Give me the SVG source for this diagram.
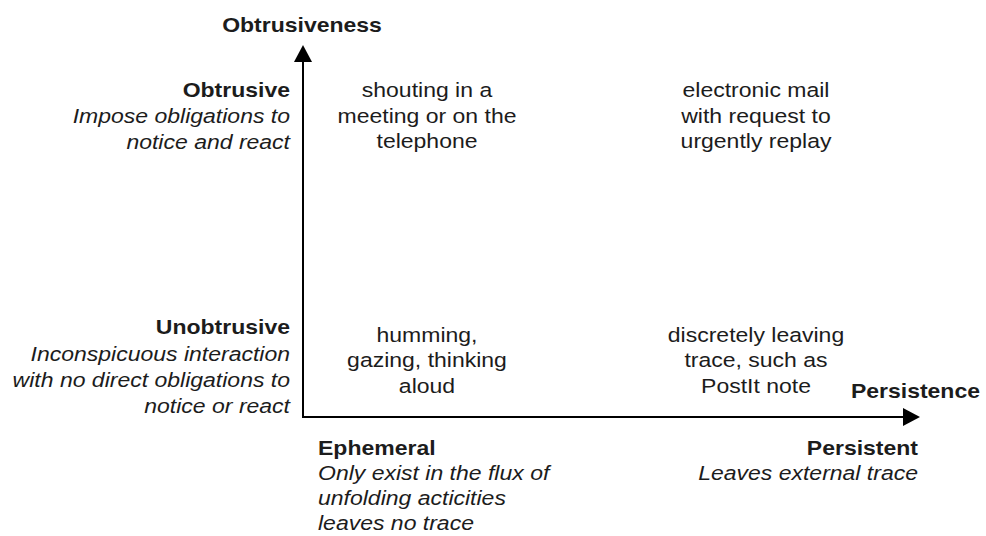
<svg xmlns="http://www.w3.org/2000/svg" width="986" height="536" viewBox="0 0 986 536">
  <style>
    text { font-family: "Liberation Sans", Arial, sans-serif; font-size: 19.5px; fill: #1c1c1c; }
    .b { font-weight: bold; }
    .i { font-style: italic; }
    .m { text-anchor: middle; }
    .e { text-anchor: end; }
    .axis { stroke: #000; stroke-width: 2; fill: none; }
  </style>
  <defs>
    <marker id="arrow" viewBox="0 0 17 18" refX="2" refY="9" markerWidth="17" markerHeight="18" markerUnits="userSpaceOnUse" orient="auto">
      <path d="M0,0 L17,9 L0,18 Z" fill="#000"/>
    </marker>
  </defs>
  <rect width="986" height="536" fill="#fff"/>

  <!-- axes -->
  <g id="connectors">
    <line class="axis" x1="303" y1="418" x2="303" y2="60" marker-end="url(#arrow)"/>
    <line class="axis" x1="302" y1="417" x2="905" y2="417" marker-end="url(#arrow)"/>
  </g>

  <!-- axis titles -->
  <g id="title-obtrusiveness" transform="translate(302 0) scale(1.18 1)">
    <text class="b m" x="0" y="32">Obtrusiveness</text>
  </g>
  <g id="title-persistence" transform="translate(980 0) scale(1.18 1)">
    <text class="b e" x="0" y="398">Persistence</text>
  </g>

  <!-- vertical axis levels -->
  <g id="level-obtrusive" transform="translate(290 0) scale(1.18 1)">
    <text class="b e" x="0" y="97">Obtrusive</text>
    <text class="i e" x="0" y="123">Impose obligations to</text>
    <text class="i e" x="0" y="149">notice and react</text>
  </g>
  <g id="level-unobtrusive" transform="translate(290 0) scale(1.18 1)">
    <text class="b e" x="0" y="334">Unobtrusive</text>
    <text class="i e" x="0" y="361">Inconspicuous interaction</text>
    <text class="i e" x="0" y="387">with no direct obligations to</text>
    <text class="i e" x="0" y="413">notice or react</text>
  </g>

  <!-- horizontal axis levels -->
  <g id="level-ephemeral" transform="translate(318 0) scale(1.18 1)">
    <text class="b" x="0" y="455">Ephemeral</text>
    <text class="i" x="0" y="480">Only exist in the flux of</text>
    <text class="i" x="0" y="505">unfolding acticities</text>
    <text class="i" x="0" y="530">leaves no trace</text>
  </g>
  <g id="level-persistent" transform="translate(918 0) scale(1.18 1)">
    <text class="b e" x="0" y="455">Persistent</text>
    <text class="i e" x="0" y="480">Leaves external trace</text>
  </g>

  <!-- quadrant examples -->
  <g id="cell-obtrusive-ephemeral" transform="translate(427 0) scale(1.18 1)">
    <text class="m" x="0" y="97">shouting in a</text>
    <text class="m" x="0" y="123">meeting or on the</text>
    <text class="m" x="0" y="148">telephone</text>
  </g>
  <g id="cell-obtrusive-persistent" transform="translate(756 0) scale(1.18 1)">
    <text class="m" x="0" y="97">electronic mail</text>
    <text class="m" x="0" y="123">with request to</text>
    <text class="m" x="0" y="148">urgently replay</text>
  </g>
  <g id="cell-unobtrusive-ephemeral" transform="translate(427 0) scale(1.18 1)">
    <text class="m" x="0" y="342">humming,</text>
    <text class="m" x="0" y="367">gazing, thinking</text>
    <text class="m" x="0" y="393">aloud</text>
  </g>
  <g id="cell-unobtrusive-persistent" transform="translate(756 0) scale(1.18 1)">
    <text class="m" x="0" y="342">discretely leaving</text>
    <text class="m" x="0" y="367">trace, such as</text>
    <text class="m" x="0" y="393">PostIt note</text>
  </g>
</svg>
